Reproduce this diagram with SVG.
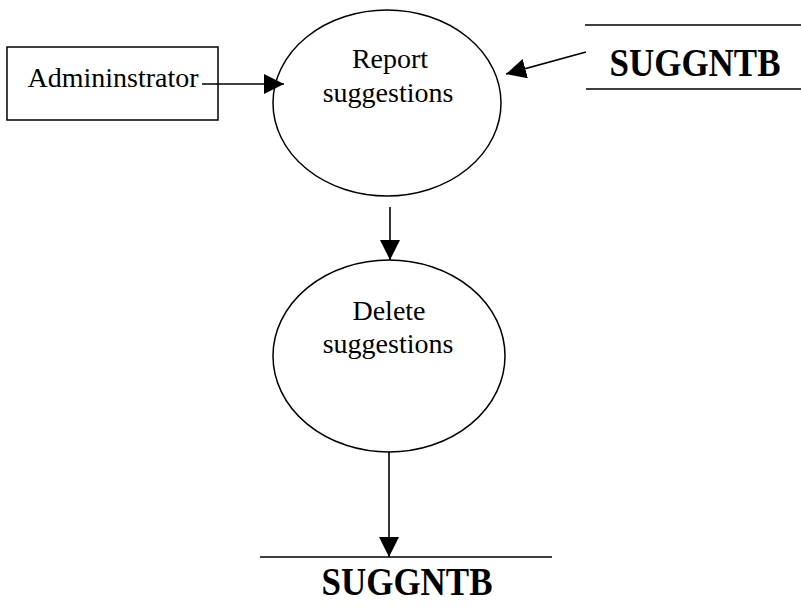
<svg xmlns="http://www.w3.org/2000/svg" width="801" height="608" viewBox="0 0 801 608">
  <defs>
    <marker id="arrow" viewBox="0 0 20 20" refX="20" refY="10" markerWidth="20" markerHeight="20" markerUnits="userSpaceOnUse" orient="auto">
      <path d="M0,0 L20,10 L0,20 Z" fill="#000"/>
    </marker>
  </defs>
  <style>
    .shape { fill: #fff; stroke: #000; stroke-width: 1.5; }
    .line { fill: none; stroke: #000; stroke-width: 1.5; }
    .label { font-family: "Liberation Serif", "Times New Roman", serif; font-size: 28px; fill: #000; text-anchor: middle; }
    .store { font-family: "Liberation Serif", "Times New Roman", serif; font-size: 35px; font-weight: bold; fill: #000; text-anchor: middle; }
    .flow { fill: none; stroke: #000; stroke-width: 1.6; marker-end: url(#arrow); }
  </style>
  <rect width="801" height="608" fill="#fff"/>

  <g id="administrator">
    <rect class="shape" x="7" y="47" width="211" height="73"/>
    <text class="label" x="113" y="87">Admininstrator</text>
  </g>

  <g id="report-suggestions">
    <ellipse class="shape" cx="387" cy="103" rx="114" ry="93"/>
    <text class="label" x="390" y="68">Report</text>
    <text class="label" x="388" y="102">suggestions</text>
  </g>

  <g id="suggntb-in">
    <line class="line" x1="585" y1="25" x2="801" y2="25"/>
    <line class="line" x1="586" y1="89" x2="801" y2="89"/>
    <text class="store" x="695" y="76" transform="translate(0 76) scale(1 1.12) translate(0 -76)">SUGGNTB</text>
  </g>

  <g id="delete-suggestions">
    <ellipse class="shape" cx="389" cy="356" rx="116" ry="96"/>
    <text class="label" x="389" y="320">Delete</text>
    <text class="label" x="388" y="353">suggestions</text>
  </g>

  <g id="suggntb-out">
    <line class="line" x1="260" y1="557" x2="552" y2="557"/>
    <text class="store" x="407" y="595" transform="translate(0 595) scale(1 1.12) translate(0 -595)">SUGGNTB</text>
  </g>

  <g id="connectors">
    <line class="flow" x1="202" y1="84" x2="284" y2="84"/>
    <line class="flow" x1="586" y1="52" x2="506" y2="74"/>
    <line class="flow" x1="390" y1="207" x2="390" y2="260"/>
    <line class="flow" x1="389" y1="452" x2="389" y2="557"/>
  </g>
</svg>
